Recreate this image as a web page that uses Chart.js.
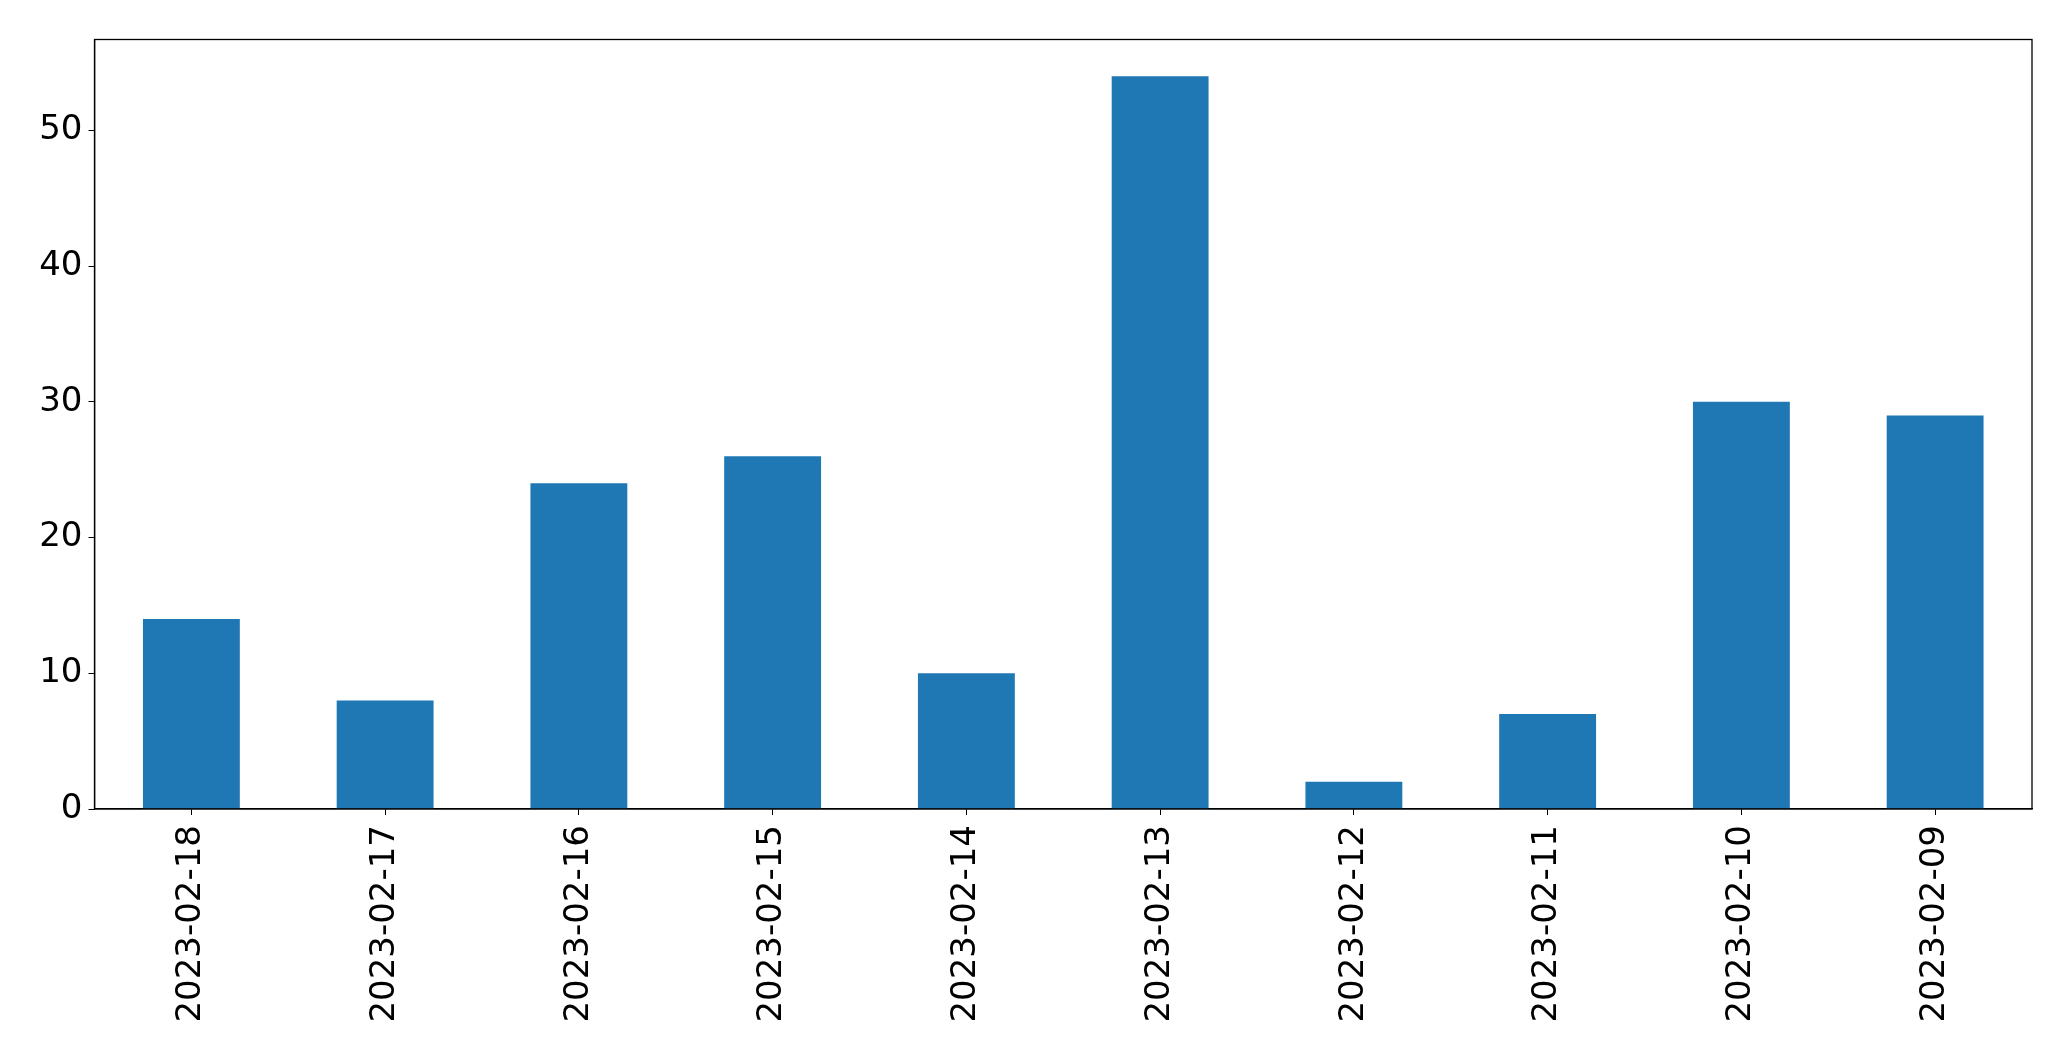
<!DOCTYPE html>
<html>
<head>
<meta charset="utf-8">
<script src="https://cdn.jsdelivr.net/npm/chart.js@4/dist/chart.umd.min.js"></script>
<style>
html,body{margin:0;padding:0;background:#fff;}
#wrap{width:2071px;height:1061px;position:relative;}
</style>
</head>
<body>
<div id="wrap"><canvas id="c" width="2071" height="1061"></canvas></div>
<script>
const categories = ["2023-02-18","2023-02-17","2023-02-16","2023-02-15","2023-02-14","2023-02-13","2023-02-12","2023-02-11","2023-02-10","2023-02-09"];
const counts = [14, 8, 24, 26, 10, 54, 2, 7, 30, 29];
const yTicks = [0, 10, 20, 30, 40, 50];
const yMax = 56.7;

const frame = {
  id: 'frame',
  afterDraw(chart) {
    const {ctx, chartArea: a} = chart;
    ctx.save();
    ctx.strokeStyle = '#000';
    ctx.lineWidth = 1.3;
    ctx.strokeRect(a.left, a.top, a.right - a.left, a.bottom - a.top);
    ctx.restore();
  }
};

new Chart(document.getElementById('c'), {
  type: 'bar',
  data: {
    labels: categories,
    datasets: [{
      data: counts,
      backgroundColor: '#1f77b4',
      borderWidth: 0,
      categoryPercentage: 1.0,
      barPercentage: 0.5
    }]
  },
  options: {
    responsive: false,
    animation: false,
    devicePixelRatio: 1,
    layout: { padding: { left: 0, top: 39.5, right: 39, bottom: 0 } },
    plugins: { legend: { display: false }, tooltip: { enabled: false } },
    scales: {
      x: {
        offset: true,
        grid: { drawOnChartArea: false, drawTicks: true, tickLength: 6, color: '#000', offset: false },
        border: { display: true, color: '#000', width: 1.3 },
        ticks: {
          color: '#000',
          font: { family: 'DejaVu Sans', size: 34 },
          maxRotation: 90, minRotation: 90,
          padding: 10,
          autoSkip: false
        },
        afterFit(s) { s.height = 252; }
      },
      y: {
        min: 0, max: yMax,
        grid: { drawOnChartArea: false, drawTicks: true, tickLength: 6, color: '#000' },
        border: { display: true, color: '#000', width: 1.3 },
        ticks: {
          color: '#000',
          font: { family: 'DejaVu Sans', size: 34 },
          padding: 6
        },
        afterBuildTicks(s) { s.ticks = yTicks.map(v => ({ value: v })); },
        afterFit(s) { s.width = 94.5; }
      }
    }
  },
  plugins: [frame]
});
</script>
</body>
</html>
